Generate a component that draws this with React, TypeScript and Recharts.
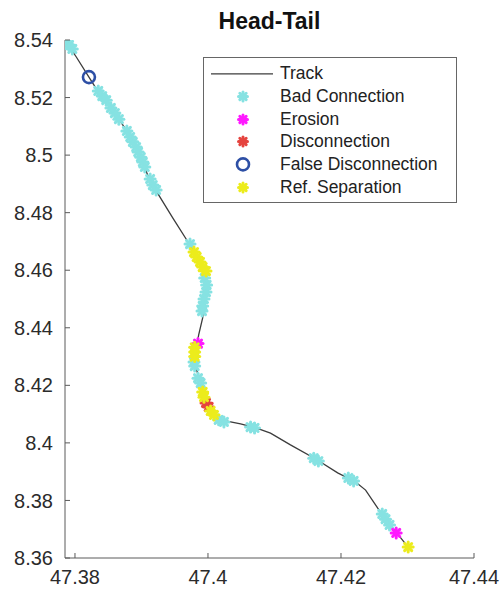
import { ScatterChart, Scatter, XAxis, YAxis } from "recharts";

// track (lon, lat)
const trackLon = [
  47.3785, 47.3802, 47.3821, 47.3836, 47.3857, 47.3877, 47.3896, 47.3911, 47.3926,
  47.3947, 47.397, 47.3982, 47.3994, 47.3998, 47.3995, 47.3992, 47.3986, 47.3982,
  47.398, 47.3985, 47.3991, 47.3997, 47.4004, 47.4019, 47.4049, 47.4072, 47.4094,
  47.4124, 47.4162, 47.4195, 47.4222, 47.4237, 47.4255, 47.4268, 47.4285, 47.4301,
];
const trackLat = [
  8.54, 8.5341, 8.5271, 8.5216, 8.5157, 8.5087, 8.5007, 8.4921, 8.4861,
  8.4782, 8.4698, 8.4653, 8.4601, 8.4549, 8.4497, 8.4434, 8.4375, 8.4323,
  8.4281, 8.4236, 8.4191, 8.4142, 8.4107, 8.408, 8.4066, 8.4052, 8.4034,
  8.3993, 8.3944, 8.3896, 8.3864, 8.3836, 8.3774, 8.3732, 8.3684, 8.3638,
];

const badConnection = [
  [47.3785, 8.54], [47.3791, 8.5383], [47.3796, 8.5369],
  [47.3835, 8.5223], [47.3841, 8.5205], [47.3847, 8.5191],
  [47.3854, 8.5164], [47.386, 8.5146], [47.3866, 8.5125],
  [47.3878, 8.5084], [47.3883, 8.5063], [47.3887, 8.5046], [47.3892, 8.5028],
  [47.3895, 8.5011], [47.3899, 8.4993], [47.3902, 8.4976], [47.3905, 8.4959],
  [47.3913, 8.4917], [47.3917, 8.4896], [47.3922, 8.4879],
  [47.3973, 8.4691],
  [47.3995, 8.4573], [47.3998, 8.4549], [47.3997, 8.4524], [47.3994, 8.45],
  [47.3992, 8.4476], [47.3991, 8.4458],
  [47.3979, 8.4281], [47.398, 8.4267],
  [47.3985, 8.4225], [47.3989, 8.4208],
  [47.4016, 8.408], [47.4024, 8.4073],
  [47.4064, 8.4055], [47.407, 8.4052],
  [47.4159, 8.3947], [47.4166, 8.3937],
  [47.4211, 8.3878], [47.4219, 8.3868],
  [47.4262, 8.3753], [47.4267, 8.3735], [47.4273, 8.3715],
];
const erosion = [[47.3985, 8.4345], [47.4283, 8.3687]];
const disconnection = [[47.3997, 8.4139], [47.4001, 8.4125]];
const falseDisconnection = [[47.3821, 8.5271]];
const refSeparation = [
  [47.3979, 8.4663], [47.3983, 8.4646], [47.3988, 8.4629], [47.3992, 8.4611], [47.3997, 8.4597],
  [47.398, 8.4332], [47.398, 8.4316], [47.398, 8.43],
  [47.3992, 8.4177], [47.3994, 8.4159],
  [47.4004, 8.4111], [47.4009, 8.4097],
  [47.4301, 8.3638],
];

const xTicks = [47.38, 47.4, 47.42, 47.44];
const xTickLabels = ["47.38", "47.4", "47.42", "47.44"];
const yTicks = [8.36, 8.38, 8.4, 8.42, 8.44, 8.46, 8.48, 8.5, 8.52, 8.54];
const yTickLabels = ["8.36", "8.38", "8.4", "8.42", "8.44", "8.46", "8.48", "8.5", "8.52", "8.54"];

const FONT = "'Liberation Sans', Arial, Helvetica, sans-serif";
const AXIS = "#5a5a5a";
const C_TRACK = "#3c3c3c";
const C_BAD = "#86e2e2";
const C_ERO = "#ff1aff";
const C_DIS = "#e5443f";
const C_FALSE = "#2d4fa5";
const C_REF = "#ecec1c";

const toPts = (arr: number[][]) => arr.map(([x, y]) => ({ x, y }));
const track = trackLon.map((x, i) => ({ x, y: trackLat[i] }));

function Star({ cx, cy, color, r = 5, w = 3 }: any) {
  const d = r * 0.707;
  return (
    <g stroke={color} strokeWidth={w} strokeLinecap="round">
      <line x1={cx - r} y1={cy} x2={cx + r} y2={cy} />
      <line x1={cx} y1={cy - r} x2={cx} y2={cy + r} />
      <line x1={cx - d} y1={cy - d} x2={cx + d} y2={cy + d} />
      <line x1={cx - d} y1={cy + d} x2={cx + d} y2={cy - d} />
    </g>
  );
}

function Ring({ cx, cy }: any) {
  return <circle cx={cx} cy={cy} r={6} fill="none" stroke={C_FALSE} strokeWidth={2.6} />;
}

// inward MATLAB-style ticks
const TM = 12;
const TL = 5;
const textStyle = { fill: "#2b2b2b", fontSize: 20, fontFamily: FONT };

function BottomTick({ x, y, payload }: any) {
  const ay = y - TM;
  return (
    <g>
      <line x1={x} x2={x} y1={ay} y2={ay - TL} stroke={AXIS} />
      <text x={x} y={y} dy="0.71em" textAnchor="middle" {...textStyle}>
        {xTickLabels[xTicks.indexOf(payload.value)]}
      </text>
    </g>
  );
}
function LeftTick({ x, y, payload }: any) {
  const ax = x + TM;
  return (
    <g>
      <line x1={ax} x2={ax + TL} y1={y} y2={y} stroke={AXIS} />
      <text x={x} y={y} dy="0.355em" textAnchor="end" {...textStyle}>
        {yTickLabels[yTicks.indexOf(payload.value)]}
      </text>
    </g>
  );
}
function TopTick({ x, y }: any) {
  return <line x1={x} x2={x} y1={y} y2={y + TL} stroke={AXIS} />;
}
function RightTick({ x, y }: any) {
  return <line x1={x} x2={x - TL} y1={y} y2={y} stroke={AXIS} />;
}

const legendRows = [
  { label: "Track", kind: "line", color: C_TRACK },
  { label: "Bad Connection", kind: "star", color: C_BAD },
  { label: "Erosion", kind: "star", color: C_ERO },
  { label: "Disconnection", kind: "star", color: C_DIS },
  { label: "False Disconnection", kind: "ring", color: C_FALSE },
  { label: "Ref. Separation", kind: "star", color: C_REF },
];

function ChartLegend() {
  const rowH = 22.8;
  return (
    <div
      style={{
        position: "absolute",
        left: 203,
        top: 57,
        width: 254,
        height: 146,
        boxSizing: "border-box",
        border: "1px solid #666",
        background: "#fff",
        paddingTop: 4,
        fontFamily: FONT,
        fontSize: 17.5,
        color: "#222",
      }}
    >
      {legendRows.map((r) => (
        <div key={r.label} style={{ position: "relative", height: rowH }}>
          <svg width={76} height={rowH} style={{ position: "absolute", left: 0, top: 0 }}>
            {r.kind === "line" && (
              <line x1={7} y1={rowH / 2 + 0.5} x2={69} y2={rowH / 2 + 0.5} stroke={C_TRACK} strokeWidth={1.3} />
            )}
            {r.kind === "star" && <Star cx={39} cy={rowH / 2} color={r.color} r={4.5} w={3} />}
            {r.kind === "ring" && <Ring cx={39} cy={rowH / 2} />}
          </svg>
          <span
            style={{
              position: "absolute",
              left: 76,
              top: 0,
              lineHeight: `${rowH}px`,
              whiteSpace: "nowrap",
            }}
          >
            {r.label}
          </span>
        </div>
      ))}
    </div>
  );
}

export default function App() {
  return (
    <div style={{ position: "absolute", left: 0, top: 0, width: 502, height: 592, background: "#fff" }}>
      <ScatterChart width={502} height={592} margin={{ top: 40, right: 28, bottom: 0, left: 0 }}>
        <XAxis
          type="number"
          dataKey="x"
          domain={[47.3785, 47.44]}
          allowDataOverflow
          ticks={xTicks}
          height={34}
          tickSize={0}
          tickLine={false}
          tickMargin={TM}
          stroke={AXIS}
          tick={BottomTick}
        />
        <XAxis
          xAxisId="top"
          orientation="top"
          type="number"
          domain={[47.3785, 47.44]}
          allowDataOverflow
          ticks={xTicks}
          height={0}
          tickSize={0}
          tickLine={false}
          tickMargin={0}
          stroke={AXIS}
          tick={TopTick}
        />
        <YAxis
          type="number"
          dataKey="y"
          domain={[8.36, 8.54]}
          allowDataOverflow
          ticks={yTicks}
          width={65}
          tickSize={0}
          tickLine={false}
          tickMargin={TM}
          stroke={AXIS}
          tick={LeftTick}
        />
        <YAxis
          yAxisId="right"
          orientation="right"
          type="number"
          domain={[8.36, 8.54]}
          allowDataOverflow
          ticks={yTicks}
          width={0}
          tickSize={0}
          tickLine={false}
          tickMargin={0}
          stroke={AXIS}
          tick={RightTick}
        />
        <Scatter
          name="Track"
          data={track}
          line={{ stroke: C_TRACK, strokeWidth: 1.3 }}
          shape={() => <g />}
          isAnimationActive={false}
        />
        <Scatter
          name="Bad Connection"
          data={toPts(badConnection)}
          shape={(p: any) => <Star cx={p.cx} cy={p.cy} color={C_BAD} />}
          isAnimationActive={false}
        />
        <Scatter
          name="Erosion"
          data={toPts(erosion)}
          shape={(p: any) => <Star cx={p.cx} cy={p.cy} color={C_ERO} />}
          isAnimationActive={false}
        />
        <Scatter
          name="Disconnection"
          data={toPts(disconnection)}
          shape={(p: any) => <Star cx={p.cx} cy={p.cy} color={C_DIS} />}
          isAnimationActive={false}
        />
        <Scatter
          name="False Disconnection"
          data={toPts(falseDisconnection)}
          shape={(p: any) => <Ring cx={p.cx} cy={p.cy} />}
          isAnimationActive={false}
        />
        <Scatter
          name="Ref. Separation"
          data={toPts(refSeparation)}
          shape={(p: any) => <Star cx={p.cx} cy={p.cy} color={C_REF} />}
          isAnimationActive={false}
        />
      </ScatterChart>
      <div
        style={{
          position: "absolute",
          left: 65,
          width: 409,
          top: 10,
          textAlign: "center",
          fontFamily: FONT,
          fontWeight: "bold",
          fontSize: 23,
          lineHeight: "23px",
          color: "#111",
        }}
      >
        Head-Tail
      </div>
      <ChartLegend />
    </div>
  );
}
